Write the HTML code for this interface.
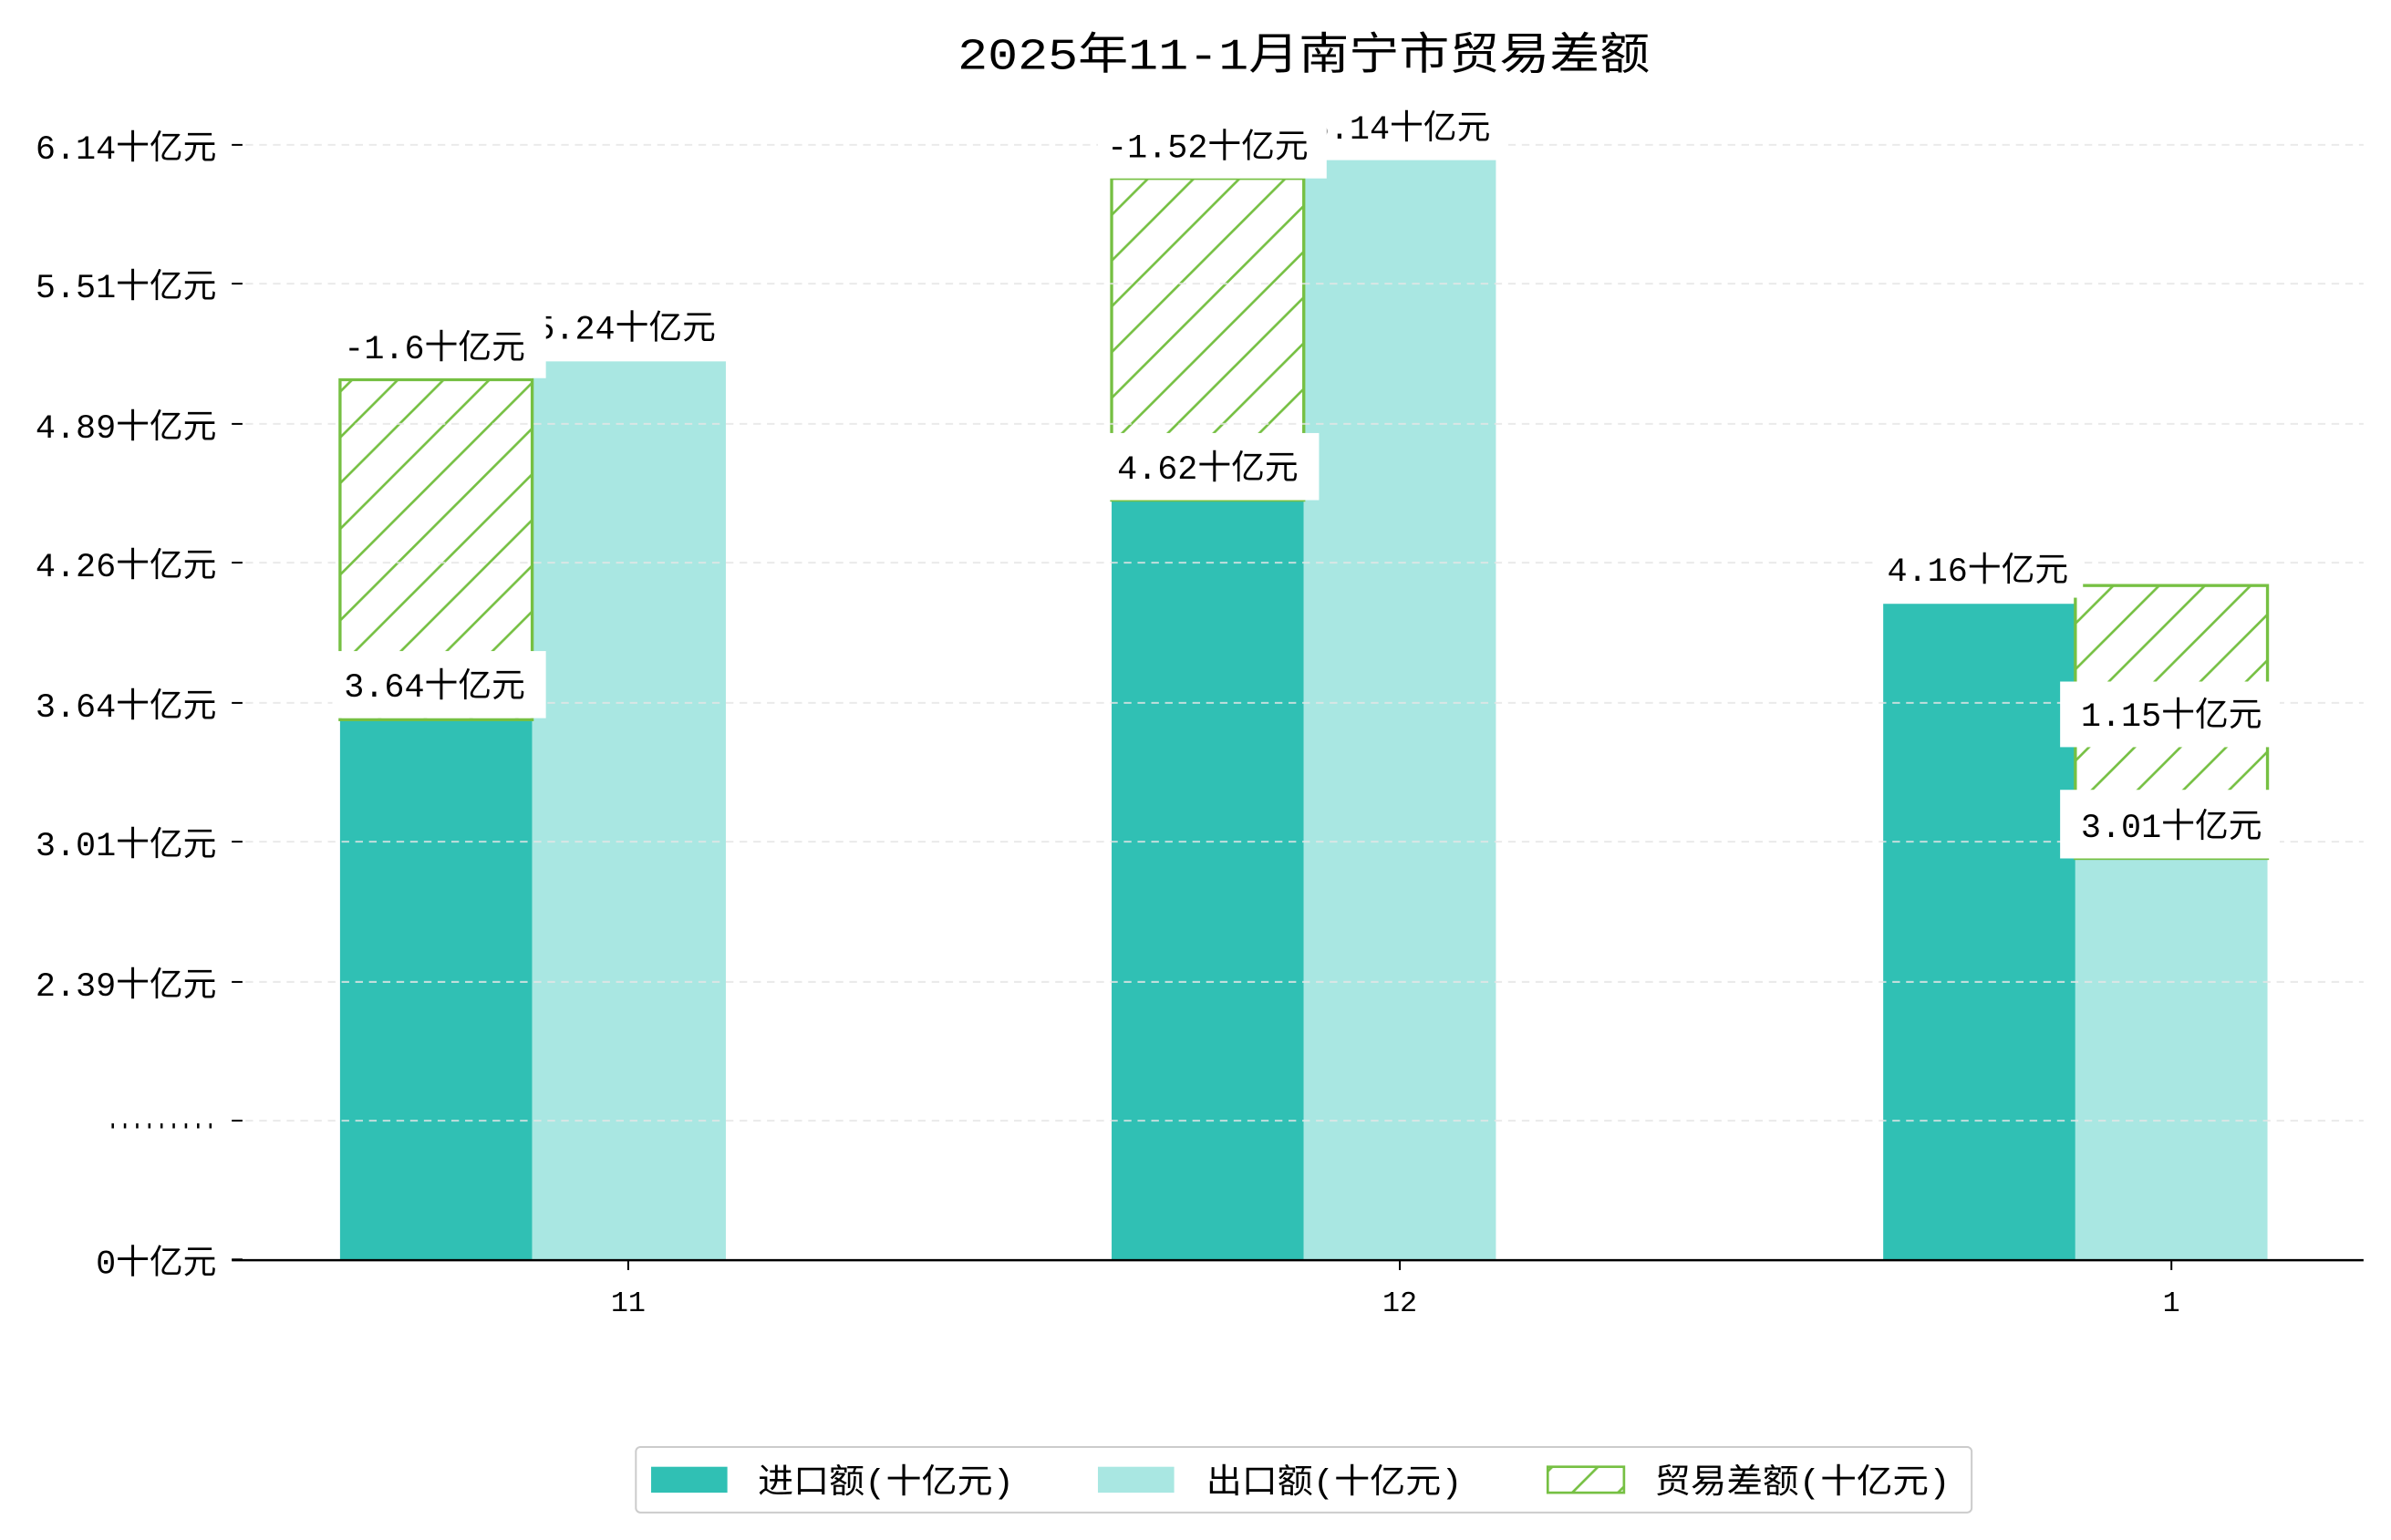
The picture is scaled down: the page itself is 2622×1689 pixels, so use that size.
<!DOCTYPE html>
<html><head><meta charset="utf-8"><style>
html,body{margin:0;padding:0;background:#fff}
svg{display:block}
text{font-family:"Liberation Mono","Noto Sans CJK SC",sans-serif;fill:#000}
</style></head><body>
<svg width="2622" height="1689" viewBox="0 0 1568 1010" xmlns="http://www.w3.org/2000/svg">
<defs>
<pattern id="h" patternUnits="userSpaceOnUse" width="30" height="30">
<line x1="-3" y1="33" x2="33" y2="-3" stroke="#76c043" stroke-width="1.6"/>
<line x1="-33" y1="33" x2="3" y2="-3" stroke="#76c043" stroke-width="1.6"/>
<line x1="27" y1="33" x2="63" y2="-3" stroke="#76c043" stroke-width="1.6"/>
</pattern>
</defs>
<rect width="1568" height="1010" fill="#fff"/>
<text x="628" y="45" font-size="29" textLength="454" lengthAdjust="spacingAndGlyphs">2025年11-1月南宁市贸易差额</text>
<rect x="223" y="472" width="126" height="354" fill="#30c0b4"/>
<rect x="349" y="237" width="127" height="589" fill="#a9e7e2"/>
<rect x="729" y="328" width="126" height="498" fill="#30c0b4"/>
<rect x="855" y="105" width="126" height="721" fill="#a9e7e2"/>
<rect x="1235" y="396" width="126" height="430" fill="#30c0b4"/>
<rect x="1361" y="563" width="126" height="263" fill="#a9e7e2"/>
<rect x="223" y="249" width="126" height="223" fill="url(#h)" stroke="#76c043" stroke-width="2"/>
<rect x="729" y="117" width="126" height="211" fill="url(#h)" stroke="#76c043" stroke-width="2"/>
<rect x="1361" y="384" width="126" height="179" fill="url(#h)" stroke="#76c043" stroke-width="2"/>
<g stroke="#e6e6e6" stroke-width="1.2" stroke-dasharray="5,4" opacity="0.8">
<line x1="152" y1="95" x2="1550" y2="95"/><line x1="152" y1="186" x2="1550" y2="186"/>
<line x1="152" y1="278" x2="1550" y2="278"/><line x1="152" y1="369" x2="1550" y2="369"/>
<line x1="152" y1="461" x2="1550" y2="461"/><line x1="152" y1="552" x2="1550" y2="552"/>
<line x1="152" y1="644" x2="1550" y2="644"/><line x1="152" y1="735" x2="1550" y2="735"/>
</g>
<line x1="152" y1="826.5" x2="1550" y2="826.5" stroke="#000" stroke-width="1.5"/>
<g stroke="#000" stroke-width="1.2">
<line x1="152" y1="95" x2="159" y2="95"/><line x1="152" y1="186" x2="159" y2="186"/>
<line x1="152" y1="278" x2="159" y2="278"/><line x1="152" y1="369" x2="159" y2="369"/>
<line x1="152" y1="461" x2="159" y2="461"/><line x1="152" y1="552" x2="159" y2="552"/>
<line x1="152" y1="644" x2="159" y2="644"/><line x1="152" y1="735" x2="159" y2="735"/>
<line x1="152" y1="826" x2="159" y2="826"/>
<line x1="412" y1="827" x2="412" y2="833"/><line x1="918" y1="827" x2="918" y2="833"/><line x1="1424" y1="827" x2="1424" y2="833"/>
</g>
<g font-size="22" text-anchor="end">
<text x="142" y="104">6.14十亿元</text><text x="142" y="195">5.51十亿元</text>
<text x="142" y="287">4.89十亿元</text><text x="142" y="378">4.26十亿元</text>
<text x="142" y="470">3.64十亿元</text><text x="142" y="561">3.01十亿元</text>
<text x="142" y="653">2.39十亿元</text>
<text x="142" y="835">0十亿元</text>
</g>
<text x="70" y="740" font-size="22" textLength="72" lengthAdjust="spacingAndGlyphs">.........</text>
<g font-size="19" text-anchor="middle">
<text x="412" y="860">11</text><text x="918" y="860">12</text><text x="1424" y="860">1</text>
</g>
<g font-size="22" text-anchor="middle">
<rect x="350" y="198" width="130" height="38" fill="#fff"/><text x="410" y="222">5.24十亿元</text>
<rect x="218" y="208" width="140" height="40" fill="#fff"/><text x="285" y="235">-1.6十亿元</text>
<rect x="218" y="427" width="140" height="44" fill="#fff"/><text x="285" y="457">3.64十亿元</text>
<rect x="865" y="66" width="124" height="38" fill="#fff"/><text x="918" y="91">6.14十亿元</text>
<rect x="720" y="75" width="150" height="42" fill="#fff"/><text x="792" y="103">-1.52十亿元</text>
<rect x="720" y="284" width="145" height="44" fill="#fff"/><text x="792" y="314">4.62十亿元</text>
<rect x="1228" y="354" width="138" height="38" fill="#fff"/><text x="1297" y="381">4.16十亿元</text>
<rect x="1351" y="447" width="144" height="43" fill="#fff"/><text x="1424" y="476">1.15十亿元</text>
<rect x="1351" y="518" width="144" height="45" fill="#fff"/><text x="1424" y="549">3.01十亿元</text>
</g>
<rect x="218" y="208" width="140" height="29" fill="#fff" opacity="0"/>
<rect x="858" y="66" width="12" height="38" fill="#fff"/>
<rect x="349" y="198" width="9" height="38" fill="#fff"/>
<rect x="417" y="949" width="876" height="43" rx="3" fill="#fff" stroke="#ccc" stroke-width="1.2"/>
<rect x="427" y="962" width="50" height="17" fill="#30c0b4"/>
<text x="497" y="979" font-size="22" textLength="168" lengthAdjust="spacingAndGlyphs">进口额(十亿元)</text>
<rect x="720" y="962" width="50" height="17" fill="#a9e7e2"/>
<text x="791" y="979" font-size="22" textLength="168" lengthAdjust="spacingAndGlyphs">出口额(十亿元)</text>
<rect x="1015" y="962" width="50" height="17" fill="url(#h)" stroke="#76c043" stroke-width="1.6"/>
<text x="1085" y="979" font-size="22" textLength="194" lengthAdjust="spacingAndGlyphs">贸易差额(十亿元)</text>
</svg>
</body></html>
